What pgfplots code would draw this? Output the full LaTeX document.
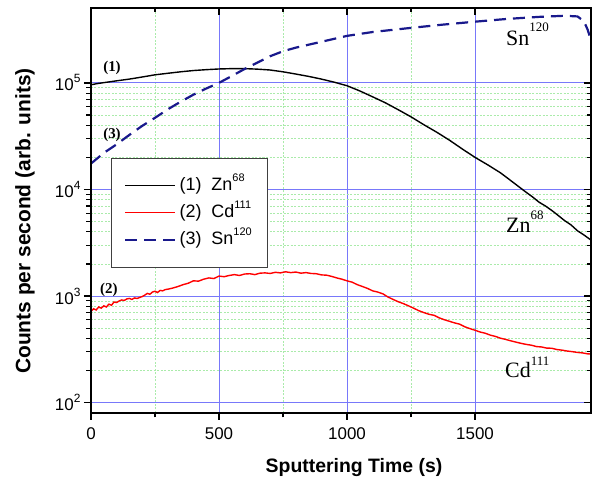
\documentclass[border=0pt]{standalone}
\usepackage{pgfplots}
\pgfplotsset{compat=1.18}
\usepackage{fontspec}
\setmainfont{Liberation Sans}
\newfontfamily\tnr{Liberation Serif}
\definecolor{gridblue}{RGB}{120,120,250}
\definecolor{gridgreen}{RGB}{170,235,170}
\definecolor{snblue}{RGB}{25,25,140}
\newcommand{\sups}[3]{\raisebox{#1}{\fontsize{#2}{#2}\selectfont #3}}
\begin{document}
\begin{tikzpicture}
\begin{axis}[
  clip=false,
  scale only axis, width=500bp, height=405bp,
  xmin=0, xmax=1953, ymin=80, ymax=5.04e5, ymode=log,
  xtick={0,500,1000,1500}, xticklabels={0,500,1000,1500},
  minor x tick num=1,
  ytick={100,1000,10000,100000},
  yticklabels={10\sups{8bp}{12}{2},10\sups{8bp}{12}{3},10\sups{8bp}{12}{4},10\sups{8bp}{12}{5}},
  xtick pos=left, ytick pos=left, tick align=outside,
  major tick length=7bp, minor tick length=4.5bp,
  every major tick/.append style={black, line width=1.3bp},
  every minor tick/.append style={black, line width=1.1bp},
  grid=both,
  major grid style={gridblue, line width=0.8bp},
  minor grid style={gridgreen, line width=0.8bp, dash pattern=on 2bp off 1.5bp},
  axis line style={black, line width=2.2bp},
  tick label style={font=\fontsize{17}{20}\selectfont},
  xticklabel style={yshift=-4bp},
  xlabel={\bfseries Sputtering Time (s)},
  ylabel={\bfseries Counts per second (arb. units)},
  xlabel style={at={(axis description cs:0.526,-0.1457)}, anchor=base, font=\fontsize{19.5}{22}\selectfont},
  ylabel style={at={(axis description cs:-0.132,0.474)}, anchor=center, font=\fontsize{21}{24}\selectfont},
  legend image code/.code={\draw[#1] (0bp,0bp) -- (50bp,0bp);},
  legend cell align=left,
  legend style={at={(rel axis cs:0.04,0.63)}, anchor=north west,
    draw=black!75, line width=0.8bp, fill=white,
    font=\fontsize{18}{20}\selectfont,
    inner xsep=13bp, inner ysep=16bp, row sep=4bp,
    nodes={inner sep=3bp, text height=13bp, text depth=4bp}},
]
\addplot[black, line width=1.4bp] coordinates {
(0,96000) (25,98500) (50,100500) (100,104500) (150,108500) (200,113500) (250,119000)
(300,123000) (350,127000) (400,130500) (450,133000) (500,135000) (550,136000)
(600,136000) (650,134500) (700,132000) (750,127000) (800,121000) (850,115000)
(900,108500) (950,101500) (1000,94000) (1050,84000) (1100,74000) (1150,65000)
(1200,56000) (1250,48000) (1300,40500) (1350,34500) (1400,29000) (1450,24000)
(1500,20000) (1550,17000) (1600,14300) (1650,11600) (1700,9400) (1725,8500)
(1750,7600) (1775,7000) (1800,6350) (1825,5700) (1850,5100) (1875,4650)
(1900,4100) (1925,3750) (1953,3350)
};
\addlegendentry{(1)\hspace{10bp}Zn\sups{9bp}{11}{68}}
\addplot[red, line width=1.4bp] coordinates {
(0,720) (10,760) (20,740) (30,790) (40,770) (50,810) (60,790) (70,840) (80,820)
(90,880) (100,870) (110,900) (120,920) (130,910) (140,940) (150,950) (160,930)
(170,960) (180,950) (190,970) (200,990) (210,1020) (220,1060) (230,1040) (240,1090)
(250,1110) (260,1080) (270,1130) (280,1120) (290,1150) (300,1160) (320,1190)
(340,1230) (360,1280) (380,1320) (400,1390) (420,1380) (440,1440) (460,1480)
(480,1460) (500,1540) (520,1520) (540,1560) (560,1590) (580,1560) (600,1610)
(620,1620) (640,1590) (660,1640) (680,1650) (700,1630) (720,1670) (740,1650)
(760,1690) (780,1660) (800,1680) (820,1640) (840,1660) (860,1630) (880,1620)
(900,1580) (920,1570) (940,1530) (960,1480) (980,1440) (1000,1390) (1020,1350)
(1040,1280) (1060,1230) (1080,1180) (1100,1120) (1120,1090) (1140,1050) (1160,980)
(1180,930) (1200,885) (1220,850) (1240,810) (1260,770) (1280,730) (1300,700)
(1320,675) (1340,660) (1360,625) (1380,600) (1400,580) (1420,560) (1440,545)
(1460,515) (1480,495) (1500,478) (1520,460) (1540,448) (1560,430) (1580,418)
(1600,402) (1620,392) (1640,380) (1660,370) (1680,360) (1700,352) (1720,346)
(1740,336) (1760,333) (1780,325) (1800,324) (1820,315) (1840,311) (1860,305)
(1880,301) (1900,296) (1920,293) (1940,287) (1953,286)
};
\addlegendentry{(2)\hspace{10bp}Cd\sups{9bp}{11}{111}}
\addplot[snblue, line width=2.2bp, dash pattern=on 12bp off 7bp] coordinates {
(0,17500) (50,22000) (100,26500) (150,32500) (200,39500) (250,47000) (300,56500)
(350,66500) (400,77500) (450,88500) (500,100000) (550,116000) (600,135000)
(650,155000) (700,178000) (750,198000) (800,214000) (900,243000) (1000,276000)
(1100,300000) (1250,328000) (1375,352000) (1500,375000) (1625,398000)
(1750,416000) (1850,426000) (1900,420000) (1925,380000) (1940,315000) (1953,250000)
};
\addlegendentry{(3)\hspace{10bp}Sn\sups{9bp}{11}{120}}
\node[font=\tnr\bfseries\fontsize{15}{15}\selectfont] at (axis cs:82,137000) {(1)};
\node[font=\tnr\bfseries\fontsize{15}{15}\selectfont] at (axis cs:82,32500) {(3)};
\node[font=\tnr\bfseries\fontsize{15}{15}\selectfont] at (axis cs:70,1140) {(2)};
\node[font=\tnr\fontsize{22}{22}\selectfont, anchor=base west, inner sep=0pt] at (axis cs:1621,222000) {Sn\sups{14bp}{13}{120}};
\node[font=\tnr\fontsize{22}{22}\selectfont, anchor=base west, inner sep=0pt] at (axis cs:1621,3960) {Zn\sups{13bp}{13}{68}};
\node[font=\tnr\fontsize{22}{22}\selectfont, anchor=base west, inner sep=0pt] at (axis cs:1617,174) {Cd\sups{12bp}{13}{111}};
\end{axis}
\begin{axis}[
  clip=false,
  scale only axis, width=500bp, height=405bp,
  xmin=0, xmax=1953, ymin=80, ymax=5.04e5, ymode=log,
  xtick={0,500,1000,1500}, minor x tick num=1,
  ytick={100,1000,10000,100000},
  xtick pos=right, ytick pos=right, tick align=inside,
  xticklabels={}, yticklabels={},
  tick label style={inner sep=0pt},
  major tick length=7bp, minor tick length=4.5bp,
  every major tick/.append style={black, line width=1.3bp},
  every minor tick/.append style={black, line width=1.1bp},
  axis line style={black, line width=2.2bp},
]
\addplot[draw=none] coordinates {(0,1000) (1900,10000)};
\end{axis}
\path (-91bp,-70bp) rectangle (504bp,413bp);
\end{tikzpicture}
\end{document}
